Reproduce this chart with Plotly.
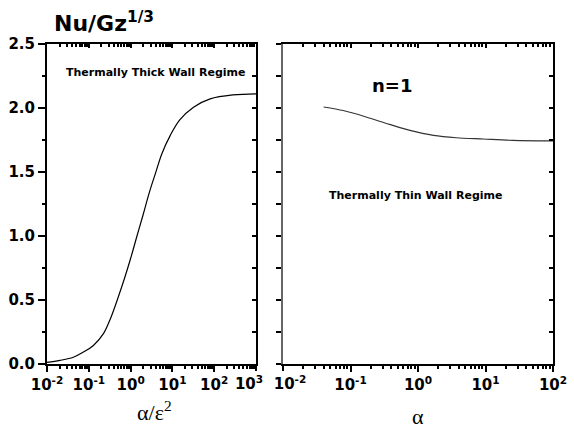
import plotly.graph_objects as go

# ---- data ----
thick_x = [0.01, 0.0204, 0.0427, 0.074, 0.129, 0.224, 0.34, 0.5, 0.71, 1.0, 1.41, 2.0, 2.8, 4.0, 5.6, 8.9, 15, 32, 80, 280, 1000]
thick_y = [0.012, 0.028, 0.053, 0.093, 0.145, 0.237, 0.366, 0.518, 0.666, 0.824, 0.996, 1.168, 1.339, 1.497, 1.643, 1.786, 1.907, 2.006, 2.071, 2.102, 2.110]

thin_x = [0.04, 0.078, 0.17, 0.38, 0.76, 1.7, 3.7, 9.3, 25.7, 90, 100]
thin_y = [2.008, 1.98, 1.93, 1.872, 1.825, 1.786, 1.768, 1.758, 1.747, 1.743, 1.743]

left_tickvals = [1e-2, 1e-1, 1e0, 1e1, 1e2]
left_ticktext = ["10<sup>-2</sup>", "10<sup>-1</sup>", "10<sup>0</sup>", "10<sup>1</sup>", "10<sup>2</sup>"]
left_end_val = [1e3]
left_end_text = ["10<sup>3</sup>"]
right_tickvals = [1e-1, 1e0, 1e1, 1e2]
right_ticktext = ["10<sup>-1</sup>", "10<sup>0</sup>", "10<sup>1</sup>", "10<sup>2</sup>"]
right_start_val = [1e-2]
right_start_text = ["10<sup>-2</sup>"]
y_tickvals = [0.0, 0.5, 1.0, 1.5, 2.0, 2.5]

W, H = 574, 428
def px(x): return x / W
def py(y): return 1 - y / H

L_DOM = [px(47), px(256)]
R_DOM = [px(283), px(553)]
Y_DOM = [py(364), py(44)]

def minors(lo, hi):
    out = []
    for e in range(lo, hi):
        for m in range(2, 10):
            out.append(m * 10 ** e)
    return out

FONT = "DejaVu Sans, Arial, sans-serif"
SERIF = "Times New Roman, Liberation Serif, serif"

fig = go.Figure()
fig.add_trace(go.Scatter(x=thick_x, y=thick_y, mode="lines", line=dict(color="black", width=1.2, shape="spline", smoothing=1.0),
                         xaxis="x", yaxis="y", showlegend=False, hoverinfo="skip"))
fig.add_trace(go.Scatter(x=thin_x, y=thin_y, mode="lines", line=dict(color="#333333", width=1.1, shape="spline", smoothing=0.8),
                         xaxis="x2", yaxis="y2", showlegend=False, hoverinfo="skip"))
# helper empty traces for overlay axes
for xa, ya in [("x3", "y"), ("x", "y3"), ("x4", "y2"), ("x2", "y4"), ("x5", "y"), ("x6", "y2")]:
    fig.add_trace(go.Scatter(x=[], y=[], xaxis=xa, yaxis=ya, showlegend=False, hoverinfo="skip"))

tickfont = dict(family=FONT, size=15, color="black", weight="bold")

common_x = dict(type="log", showgrid=False, zeroline=False, showline=True, linecolor="black", linewidth=2,
                ticks="outside", ticklen=6, tickwidth=2, tickcolor="black", tickfont=tickfont, tickmode="array",
                automargin=False)
end_label = dict(type="log", showgrid=False, zeroline=False, showline=False, side="bottom",
                 ticks="outside", ticklen=6, tickwidth=2, tickcolor="black", tickfont=tickfont,
                 tickmode="array", automargin=False)

fig.update_layout(
    width=W, height=H, margin=dict(l=0, r=0, t=0, b=0, autoexpand=False),
    paper_bgcolor="white", plot_bgcolor="white",
    xaxis=dict(common_x, domain=L_DOM, range=[-2, 3], anchor="y", tickvals=left_tickvals, ticktext=left_ticktext,
               minor=dict(ticks="outside", ticklen=3, tickwidth=1.5, tickcolor="black", tickvals=minors(-2, 3), showgrid=False)),
    xaxis2=dict(common_x, domain=R_DOM, range=[-2, 2], anchor="y2", tickvals=right_tickvals, ticktext=right_ticktext,
                minor=dict(ticks="outside", ticklen=3, tickwidth=1.5, tickcolor="black", tickvals=minors(-2, 2), showgrid=False)),
    xaxis5=dict(end_label, overlaying="x", anchor="y", range=[-2, 3], tickvals=left_end_val, ticktext=left_end_text,
                ticklabelshift=-7),
    xaxis6=dict(end_label, overlaying="x2", anchor="y2", range=[-2, 2], tickvals=right_start_val, ticktext=right_start_text,
                ticklabelshift=7),
    xaxis3=dict(type="log", overlaying="x", side="top", anchor="y", range=[-2, 3], showgrid=False, zeroline=False,
                showline=True, linecolor="black", linewidth=2, ticks="inside", ticklen=4, tickwidth=2, tickcolor="black",
                showticklabels=False, tickmode="array", tickvals=left_tickvals + left_end_val, automargin=False,
                minor=dict(ticks="inside", ticklen=3, tickwidth=1.5, tickcolor="black", tickvals=minors(-2, 3), showgrid=False)),
    xaxis4=dict(type="log", overlaying="x2", side="top", anchor="y2", range=[-2, 2], showgrid=False, zeroline=False,
                showline=True, linecolor="black", linewidth=2, ticks="inside", ticklen=4, tickwidth=2, tickcolor="black",
                showticklabels=False, tickmode="array", tickvals=right_start_val + right_tickvals, automargin=False,
                minor=dict(ticks="inside", ticklen=3, tickwidth=1.5, tickcolor="black", tickvals=minors(-2, 2), showgrid=False)),
    yaxis=dict(domain=Y_DOM, range=[0, 2.5], anchor="x", showgrid=False, zeroline=False, showline=True,
               linecolor="black", linewidth=2, ticks="outside", ticklen=7, tickwidth=2, tickcolor="black",
               tickmode="array", tickvals=y_tickvals, tickformat=".1f", tickfont=tickfont, automargin=False,
               minor=dict(ticks="outside", ticklen=3, tickwidth=2, tickcolor="black", dtick=0.25, showgrid=False)),
    yaxis2=dict(domain=Y_DOM, range=[0, 2.5], anchor="x2", showgrid=False, zeroline=False, showline=True,
                linecolor="#666666", linewidth=2, ticks="outside", ticklen=5, tickwidth=2, tickcolor="black",
                tickmode="array", tickvals=y_tickvals, showticklabels=False, automargin=False,
                minor=dict(ticks="outside", ticklen=5, tickwidth=2, tickcolor="black", dtick=0.25, showgrid=False)),
    yaxis3=dict(overlaying="y", side="right", anchor="x", range=[0, 2.5], showgrid=False, zeroline=False, showline=True,
                linecolor="black", linewidth=2, ticks="inside", ticklen=4, tickwidth=2, tickcolor="black",
                tickmode="linear", tick0=0, dtick=0.25, showticklabels=False, automargin=False),
    yaxis4=dict(overlaying="y2", side="right", anchor="x2", range=[0, 2.5], showgrid=False, zeroline=False, showline=True,
                linecolor="black", linewidth=2, ticks="inside", ticklen=4, tickwidth=2, tickcolor="black",
                tickmode="linear", tick0=0, dtick=0.25, showticklabels=False, automargin=False),
)

annots = [
    dict(text="Nu/Gz<sup>1/3</sup>", x=px(52), y=py(22), xanchor="left", yanchor="middle",
         font=dict(family=FONT, size=22, color="black", weight="bold")),
    dict(text="Thermally Thick Wall Regime", x=px(155), y=py(73), xanchor="center", yanchor="middle",
         font=dict(family=FONT, size=11, color="black", weight="bold")),
    dict(text="n=1", x=px(392), y=py(86), xanchor="center", yanchor="middle",
         font=dict(family=FONT, size=18, color="black", weight="bold")),
    dict(text="Thermally Thin Wall Regime", x=px(415), y=py(196), xanchor="center", yanchor="middle",
         font=dict(family=FONT, size=11, color="black", weight="bold")),
    dict(text="\u03b1/\u03b5<sup>2</sup>", x=px(154), y=py(411), xanchor="center", yanchor="middle",
         font=dict(family=SERIF, size=22, color="black")),
    dict(text="\u03b1", x=px(418), y=py(416), xanchor="center", yanchor="middle",
         font=dict(family=SERIF, size=22, color="black")),
]
for a in annots:
    a.update(xref="paper", yref="paper", showarrow=False)
fig.update_layout(annotations=annots)

fig.write_html("out.html")
